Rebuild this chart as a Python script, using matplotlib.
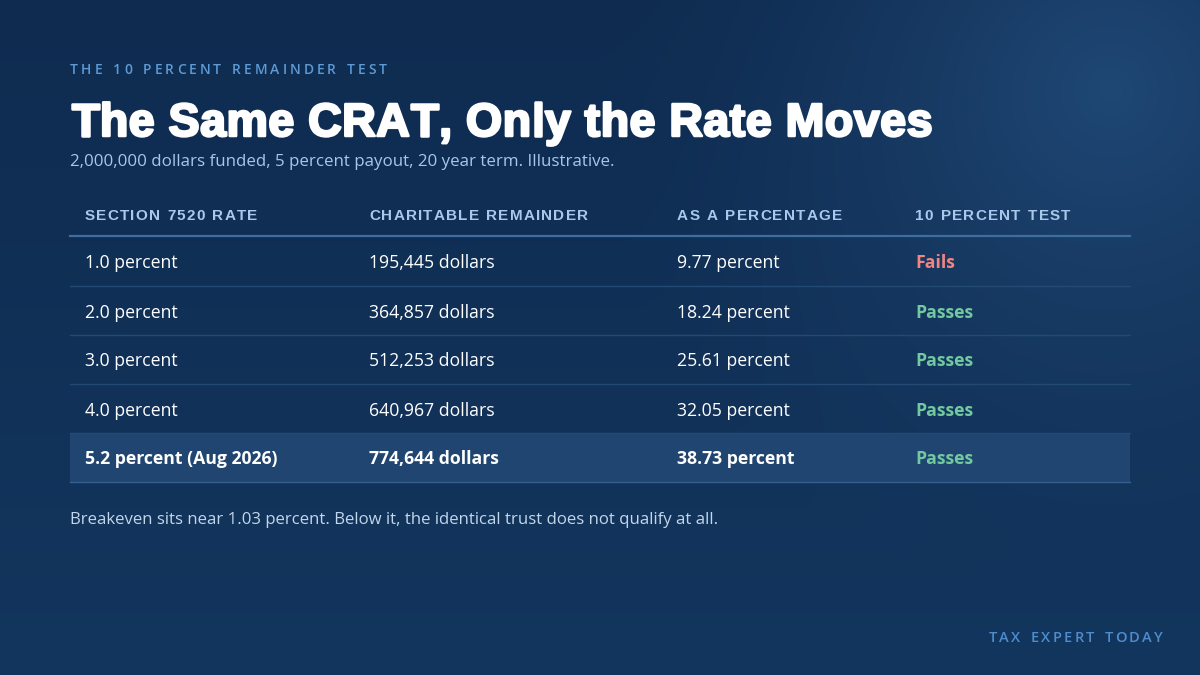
import numpy as np
import matplotlib.pyplot as plt
from matplotlib.patches import Rectangle
import matplotlib.patheffects as pe

# table data
rates = ["1.0 percent", "2.0 percent", "3.0 percent", "4.0 percent", "5.2 percent (Aug 2026)"]
remainders = ["195,445 dollars", "364,857 dollars", "512,253 dollars", "640,967 dollars", "774,644 dollars"]
percentages = ["9.77 percent", "18.24 percent", "25.61 percent", "32.05 percent", "38.73 percent"]
results = ["Fails", "Passes", "Passes", "Passes", "Passes"]
headers = ["SECTION 7520 RATE", "CHARITABLE REMAINDER", "AS A PERCENTAGE", "10 PERCENT TEST"]

W, H = 1200, 675
fig = plt.figure(figsize=(12, 6.75), dpi=100)
ax = fig.add_axes([0, 0, 1, 1])
ax.set_xlim(0, W)
ax.set_ylim(H, 0)
ax.axis("off")

# background: navy with a soft glow top right
yy, xx = np.mgrid[0:H, 0:W]
base = np.array([0x0f, 0x2b, 0x50]) / 255
bottom = np.array([0x13, 0x36, 0x5e]) / 255
glow = np.array([0x1f, 0x48, 0x75]) / 255
t = (yy / H)[..., None]
img = base * (1 - t) + bottom * t
d = np.sqrt((xx - 1110) ** 2 + (yy - 90) ** 2)
g = np.clip(1 - d / 520, 0, 1) ** 1.6
img = img * (1 - g[..., None]) + glow * g[..., None]
ax.imshow(img, extent=[0, W, H, 0], zorder=0, aspect="auto")

renderer = fig.canvas.get_renderer()


def spaced(x, y, s, gap, ha="left", space=0.55, **kw):
    # draw text with extra letter spacing (px)
    widths = []
    for ch in s:
        tt = ax.text(0, 0, ch if ch != " " else "n", **kw)
        w = tt.get_window_extent(renderer).width
        tt.remove()
        widths.append(w * (space if ch == " " else 1))
    total = sum(widths) + gap * (len(s) - 1)
    cx = x if ha == "left" else x - total
    for ch, w in zip(s, widths):
        ax.text(cx, y, ch, ha="left", va="center_baseline", **kw)
        cx += w + gap


sans = ["Open Sans", "DejaVu Sans"]
head = ["Liberation Sans", "DejaVu Sans"]

spaced(70, 69, "THE 10 PERCENT REMAINDER TEST", 3.0, family=sans, fontsize=10,
       color="#5d9ad6", fontweight="semibold")
spaced(71, 119, "The Same CRAT, Only the Rate Moves", 0.5, space=0.45, family=head, fontsize=33.5,
       fontweight="heavy", color="white",
       path_effects=[pe.withStroke(linewidth=1.8, foreground="white")])
ax.text(70, 160, "2,000,000 dollars funded, 5 percent payout, 20 year term. Illustrative.",
        family=sans, fontsize=12.2, color="#a6c6ea", va="center_baseline")

col_x = [85, 369, 677, 915]
left, right = 70, 1130
for hx, h in zip(col_x, headers):
    spaced(hx, 214, h, 1.2, family=head, fontsize=11, fontweight="bold", color="#a9c9ec")
ax.plot([left, right], [236, 236], color="#3e6d9f", lw=1.6, zorder=2)

row_h = 49
y0 = 237
for i in range(len(rates)):
    top = y0 + i * row_h
    yc = top + row_h / 2
    last = i == len(rates) - 1
    if last:
        ax.add_patch(Rectangle((left, top), right - left, row_h, color="#1f4570", zorder=1, lw=0))
    ax.plot([left, right], [top + row_h, top + row_h],
            color="#35608e" if last else "#234a74", lw=1, zorder=2)
    wt = "bold" if last else "normal"
    ax.text(col_x[0], yc, rates[i], family=sans, fontsize=12.7, color="white", fontweight=wt, va="center_baseline")
    ax.text(col_x[1], yc, remainders[i], family=sans, fontsize=12.7, color="white", fontweight=wt, va="center_baseline")
    ax.text(col_x[2], yc, percentages[i], family=sans, fontsize=12.7, color="white", fontweight=wt, va="center_baseline")
    col = "#f28482" if results[i] == "Fails" else "#72c9a0"
    ax.text(col_x[3], yc, results[i], family=sans, fontsize=12.7, color=col, fontweight="bold", va="center_baseline")

ax.text(70, 518, "Breakeven sits near 1.03 percent. Below it, the identical trust does not qualify at all.",
        family=sans, fontsize=12.1, color="#c2d6ec", va="center_baseline")

spaced(1163, 637, "TAX EXPERT TODAY", 2.4, ha="right", family=sans, fontsize=10.5,
       color="#4f8ccc", fontweight="semibold")

fig.savefig("out.png", dpi=100)
